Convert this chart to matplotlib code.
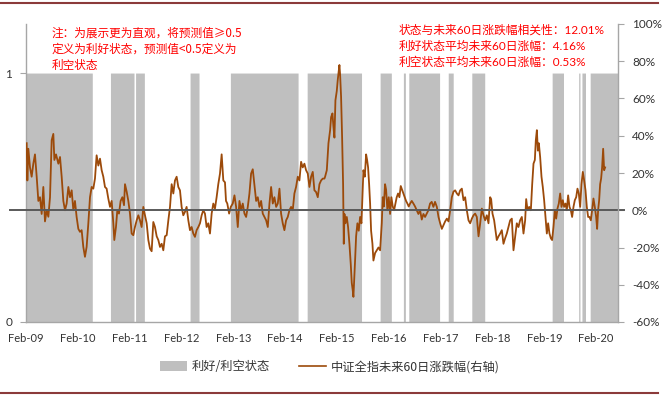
import matplotlib
matplotlib.use("Agg")
import matplotlib.pyplot as plt
import matplotlib.dates as mdates
from matplotlib.lines import Line2D
from matplotlib.patches import Patch
from matplotlib.ticker import FuncFormatter
import numpy as np
import pandas as pd

CJK = ["Noto Sans CJK SC", "DejaVu Sans"]
NUM = ["Lato", "Noto Sans CJK SC", "DejaVu Sans"]
plt.rcParams["font.family"] = NUM

# forward 60-day return of the CSI All-Share index
# (time in decimal years, value in %)
ret_2009_10 = [
    (2009.098, 36), (2009.111, 16), (2009.130, 33), (2009.162, 23), (2009.194, 18),
    (2009.226, 25), (2009.258, 30), (2009.291, 18), (2009.323, 5), (2009.355, 7),
    (2009.387, -2), (2009.419, 12.5), (2009.451, -6), (2009.484, 0), (2009.516, -3.5),
    (2009.548, 7), (2009.580, 37.6), (2009.612, 41), (2009.632, 27), (2009.664, 30),
    (2009.709, 25), (2009.741, 28.6), (2009.773, 18), (2009.805, 5), (2009.837, 0),
    (2009.869, 3.6), (2009.902, 12.5), (2009.934, 7), (2009.966, 10.7), (2009.998, 0),
    (2010.030, 5), (2010.062, -3.6), (2010.095, -10), (2010.127, -11.6), (2010.159, -10.7),
    (2010.191, -19.7), (2010.223, -25), (2010.255, -19.7), (2010.288, -7), (2010.320, 7),
    (2010.352, 12.5), (2010.384, 11.6), (2010.416, 17), (2010.448, 29.5), (2010.481, 24),
    (2010.513, 27.7), (2010.545, 21.5), (2010.577, 18), (2010.609, 12.5), (2010.641, 11.6),
    (2010.673, 6.3), (2010.706, 1.8), (2010.738, 5), (2010.770, -7), (2010.789, -16),
    (2010.821, -9), (2010.847, 0), (2010.879, -1.8), (2010.911, 5), (2010.944, 7),
    (2010.976, 2.7),
]
ret_2011_12 = [
    (2010.995, 14), (2011.028, 10), (2011.060, 5), (2011.092, -1.8), (2011.124, -12.5),
    (2011.156, -13.4), (2011.188, -9), (2011.221, -5.4), (2011.253, -2.7), (2011.285, -5.4),
    (2011.317, -9), (2011.349, 1.8), (2011.381, -2.7), (2011.414, -7), (2011.446, -16),
    (2011.478, -20.6), (2011.510, -22), (2011.542, -6.3), (2011.574, -9), (2011.607, -14),
    (2011.639, -16), (2011.671, -19.7), (2011.703, -18), (2011.735, -21.5), (2011.767, -14),
    (2011.800, -13.4), (2011.832, -5.4), (2011.864, 1.8), (2011.896, 14), (2011.928, 9),
    (2011.960, 16), (2011.992, 18), (2012.025, 12.5), (2012.057, 10.7), (2012.089, 1.8),
    (2012.121, -2.7), (2012.153, -0.9), (2012.185, 1.8), (2012.218, -5.4), (2012.250, -10.7),
    (2012.282, -9), (2012.314, -12.5), (2012.346, -14.3), (2012.378, -10.7), (2012.411, -9),
    (2012.443, -7), (2012.475, -2.7), (2012.507, 0), (2012.539, -1.8), (2012.571, -9),
    (2012.603, -7), (2012.636, -12.5), (2012.668, -1.8), (2012.700, 3.6), (2012.732, 0.9),
    (2012.764, 7), (2012.796, 14), (2012.829, 19.7), (2012.861, 30), (2012.893, 16),
]
ret_2013_14 = [
    (2012.925, 15), (2012.945, 5), (2012.970, 3.6), (2013.003, -1.8), (2013.035, 1.8),
    (2013.073, 3.6), (2013.106, 8), (2013.138, 1.8), (2013.170, -9), (2013.202, 5),
    (2013.234, 0), (2013.266, 3.6), (2013.299, -1.8), (2013.331, -3.6), (2013.363, 1.8),
    (2013.395, 9), (2013.427, 19.7), (2013.459, 22), (2013.492, 13.4), (2013.524, 5),
    (2013.556, 7), (2013.588, 1.8), (2013.620, 5), (2013.652, -1.8), (2013.684, -3.6),
    (2013.717, -5.4), (2013.749, -9), (2013.781, 3.6), (2013.813, 12.5), (2013.845, 3.6),
    (2013.877, 7), (2013.910, 1.8), (2013.942, 3.6), (2013.974, 11.6), (2014.006, -1.8),
    (2014.038, -7), (2014.070, -10.7), (2014.103, -5.4), (2014.135, -3.6), (2014.167, 0),
    (2014.199, 1.8), (2014.231, 0), (2014.263, 9), (2014.295, 12.5), (2014.328, 18),
    (2014.360, 16), (2014.392, 26), (2014.424, 23), (2014.456, 25), (2014.488, 21.5),
    (2014.521, 19.7), (2014.553, 12.5), (2014.585, 18), (2014.617, 20.6), (2014.649, 10.7),
    (2014.681, 9.8), (2014.714, 7), (2014.746, 14), (2014.778, 16), (2014.810, 17),
    (2014.842, 17),
]
ret_2015_16 = [
    (2014.855, 18), (2014.888, 21.5), (2014.920, 36), (2014.952, 43), (2014.971, 50),
    (2014.997, 52), (2015.016, 45), (2015.036, 39), (2015.055, 59), (2015.081, 64),
    (2015.100, 70), (2015.119, 75), (2015.132, 78), (2015.145, 73), (2015.164, 61),
    (2015.184, 39), (2015.203, 14), (2015.216, -18), (2015.229, -2), (2015.248, -7),
    (2015.274, -3.6), (2015.299, -9), (2015.325, -18), (2015.351, -29), (2015.370, -39),
    (2015.389, -43), (2015.402, -46.5), (2015.415, -39), (2015.434, -27), (2015.454, -14),
    (2015.479, -7), (2015.505, -11), (2015.531, -3.6), (2015.557, -7), (2015.576, 7),
    (2015.595, 21.5), (2015.621, 18), (2015.647, 30), (2015.666, 27), (2015.685, 23),
    (2015.705, 14), (2015.724, 3.6), (2015.743, -11), (2015.769, -18), (2015.788, -27),
    (2015.820, -23), (2015.852, -21.5), (2015.885, -20), (2015.917, -21.5), (2015.949, -7),
    (2015.968, 7), (2015.988, 2), (2016.013, 14), (2016.033, 11), (2016.058, 0),
    (2016.084, 7), (2016.110, -2), (2016.135, 7), (2016.161, 2), (2016.187, 0),
    (2016.213, 3.6), (2016.238, 7), (2016.264, 9), (2016.290, 7), (2016.316, 13),
    (2016.341, 11), (2016.367, 9), (2016.393, 7), (2016.418, 5), (2016.444, 3.6),
    (2016.470, 2), (2016.496, 3.6), (2016.528, 5), (2016.560, 3.6), (2016.592, 2),
    (2016.624, 0), (2016.656, -2), (2016.689, 0), (2016.721, -5), (2016.753, -2),
    (2016.785, -3.6),
]
ret_2017_18 = [
    (2016.817, -1.8), (2016.849, 0), (2016.881, 3.6), (2016.913, 4.5), (2016.945, 1.8),
    (2016.977, 4.5), (2017.010, 1.8), (2017.042, -3.6), (2017.074, -7), (2017.106, -10),
    (2017.138, -8), (2017.170, -6), (2017.203, -4.5), (2017.235, -6), (2017.267, 0),
    (2017.299, 7), (2017.331, 10), (2017.363, 10.7), (2017.396, 9), (2017.428, 8),
    (2017.460, 10.7), (2017.492, 11.6), (2017.524, 5.4), (2017.556, 7), (2017.588, 0),
    (2017.621, -5.4), (2017.653, -7), (2017.685, -4.5), (2017.717, -2.7), (2017.749, -1.8),
    (2017.781, -3.6), (2017.814, -14), (2017.846, -7), (2017.878, 0.9), (2017.910, -2.7),
    (2017.942, -5.4), (2017.974, -2.7), (2018.007, -7), (2018.039, 7), (2018.058, 6),
    (2018.084, -1.8), (2018.116, -5.4), (2018.142, -10.7), (2018.167, -16), (2018.200, -14),
    (2018.232, -12.5), (2018.264, -10.7), (2018.296, -18), (2018.328, -15), (2018.360, -12.5),
    (2018.393, -9), (2018.425, -5.4), (2018.457, -4.5), (2018.489, -21.5), (2018.521, -14),
    (2018.553, -7), (2018.585, -9), (2018.617, -5.4), (2018.650, -3.6), (2018.682, -12.5),
]
ret_2019_20 = [
    (2018.714, -5.4), (2018.734, 6), (2018.760, 0), (2018.792, 1.8), (2018.824, 0),
    (2018.850, 14), (2018.875, 25), (2018.901, 27), (2018.920, 37.6), (2018.940, 43),
    (2018.959, 32), (2018.978, 36), (2019.004, 28.6), (2019.030, 18), (2019.055, 12.5),
    (2019.081, 5.4), (2019.107, -3.6), (2019.133, -12.5), (2019.158, -7), (2019.184, -12.5),
    (2019.210, -15), (2019.235, -16), (2019.261, -9), (2019.287, 0), (2019.313, -4.5),
    (2019.338, 0.9), (2019.364, 3.6), (2019.390, 9), (2019.416, 1.8), (2019.441, 5.4),
    (2019.467, 1.8), (2019.493, 3.6), (2019.518, 0), (2019.544, 8), (2019.570, 1.8),
    (2019.596, 0), (2019.621, -3.6), (2019.647, 1.8), (2019.673, 5.4), (2019.699, 7),
    (2019.724, 11.6), (2019.750, 9), (2019.776, 1.8), (2019.801, 14), (2019.827, 20.6),
    (2019.853, 16), (2019.879, 10.7), (2019.904, 1.8), (2019.930, -3.6), (2019.956, -3.6),
    (2019.982, -5.4), (2020.007, 0), (2020.033, 6.3), (2020.059, 1.8), (2020.085, -3.6),
    (2020.104, -10), (2020.123, 0), (2020.143, 5.4), (2020.162, 14), (2020.181, 17),
    (2020.200, 23), (2020.220, 33), (2020.239, 21.5), (2020.258, 23),
]

# periods where the model prediction >= 0.5 (state = 1), decimal years
good_start = [2009.085, 2010.712, 2011.198, 2012.250, 2013.027, 2014.508, 2015.916,
              2016.366, 2016.470, 2017.228, 2017.682, 2019.235, 2019.747, 2019.810,
              2019.969]
good_end = [2010.364, 2011.169, 2011.368, 2012.423, 2014.334, 2015.556, 2016.134,
            2016.405, 2017.061, 2017.325, 2017.933, 2019.453, 2019.772, 2019.878,
            2020.500]

note_left = ["注：为展示更为直观，将预测值≥0.5",
             "定义为利好状态，预测值<0.5定义为",
             "利空状态"]
note_right = ["状态与未来60日涨跌幅相关性：12.01%",
              "利好状态平均未来60日涨幅：4.16%",
              "利空状态平均未来60日涨幅：0.53%"]
legend_labels = ["利好/利空状态", "中证全指未来60日涨跌幅(右轴)"]

x_start, x_end = "2009-02-01", "2020-07-04"

LINE_COLOR = "#9C4A0A"
GRAY = "#BFBFBF"
AXIS_GRAY = "#A6A6A6"
TEXT = "#333333"


def to_dates(years):
    years = np.asarray(years, dtype=float)
    whole = np.floor(years).astype(int)
    base = pd.to_datetime([f"{y}-01-01" for y in whole])
    return base + pd.to_timedelta((years - whole) * 365.25, unit="D")


series = ret_2009_10 + ret_2011_12 + ret_2013_14 + ret_2015_16 + ret_2017_18 + ret_2019_20
t_ret = to_dates([p[0] for p in series])
v_ret = np.array([p[1] for p in series]) / 100.0

days = pd.date_range(x_start, x_end, freq="D")
day_years = days.year + (days.dayofyear - 1) / 365.25
state = np.zeros(len(days))
for s, e in zip(good_start, good_end):
    state[(day_years >= s) & (day_years < e)] = 1

fig = plt.figure(figsize=(6.62, 3.95), dpi=100)
ax = fig.add_axes([26 / 662, 1 - 322 / 395, 592 / 662, 298 / 395])
ax.fill_between(days, 0, state, step="post", color=GRAY, lw=0)
ax.set_ylim(0, 1.197)
ax.set_xlim(pd.Timestamp(x_start), pd.Timestamp(x_end))
ax.set_yticks([0, 1])
ax.set_yticklabels(["0", "1"])

ax2 = ax.twinx()
ax2.plot(t_ret, v_ret, color=LINE_COLOR, lw=1.3)
ax2.set_ylim(-0.6, 1.0)
ax2.set_yticks(np.arange(-0.6, 1.01, 0.2))
ax2.yaxis.set_major_formatter(FuncFormatter(lambda v, _: f"{v:.0%}"))
ax2.plot([-0.027, 1.01], [0, 0], transform=ax2.get_yaxis_transform(),
         color="#595959", lw=1.4, clip_on=False)

ax.xaxis.set_major_locator(mdates.MonthLocator(bymonth=[2], bymonthday=1))
ax.xaxis.set_major_formatter(mdates.DateFormatter("%b-%y"))

for a in (ax, ax2):
    for side in a.spines:
        a.spines[side].set_visible(False)
ax.spines["left"].set_visible(True)
ax.spines["bottom"].set_visible(True)
ax2.spines["right"].set_visible(True)
for sp in (ax.spines["left"], ax.spines["bottom"], ax2.spines["right"]):
    sp.set_color(AXIS_GRAY)
    sp.set_linewidth(1.0)

ax.tick_params(axis="x", length=0, pad=8, labelsize=8, labelcolor=TEXT)
ax.tick_params(axis="y", direction="out", length=4, color=AXIS_GRAY, pad=6,
               labelsize=8.5, labelcolor=TEXT)
ax2.tick_params(axis="y", direction="out", length=4, color=AXIS_GRAY, pad=6,
                labelsize=8.5, labelcolor=TEXT)

for i, line in enumerate(note_left):
    fig.text(52 / 662, 1 - (33 + 16 * i) / 395, line, color="red", fontsize=8.4,
             family=CJK, va="center", ha="left")
for i, line in enumerate(note_right):
    fig.text(399 / 662, 1 - (30 + 16 * i) / 395, line, color="red", fontsize=8.5,
             family=NUM, va="center", ha="left")

handles = [Patch(facecolor=GRAY, edgecolor="none"),
           Line2D([0], [0], color=LINE_COLOR, lw=1.2)]
fig.legend(handles, legend_labels, loc="center", bbox_to_anchor=(330 / 662, 1 - 367 / 395),
           ncol=2, frameon=False, prop={"family": CJK, "size": 8.8},
           labelcolor=TEXT, handlelength=2.2, handleheight=0.9, columnspacing=2.4,
           handletextpad=0.4)

# decorative report rules at top and bottom
for yy in (1 - 3 / 395, 1 - 393 / 395):
    fig.add_artist(Line2D([0, 658 / 662], [yy, yy], color="#8B3A3A", lw=1.5))

fig.savefig("out.png", dpi=100)
